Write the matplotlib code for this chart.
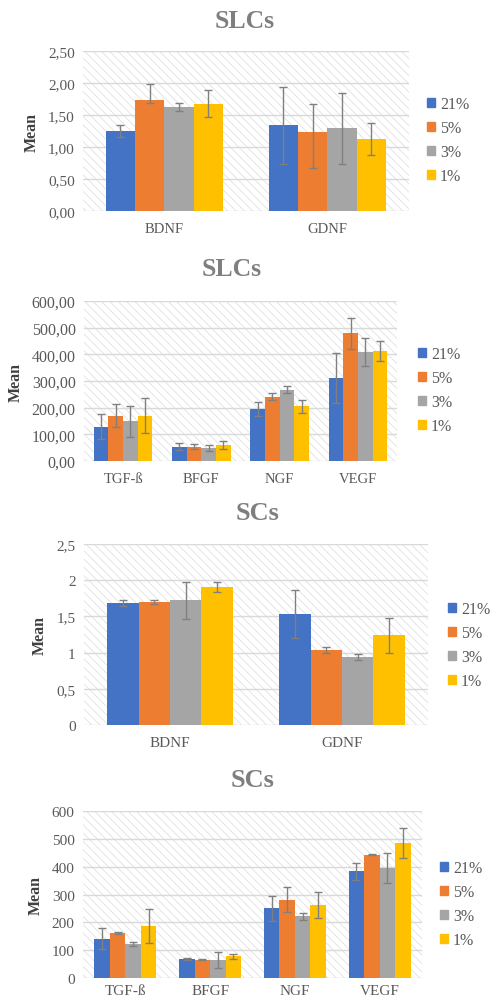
import numpy as np
import matplotlib
matplotlib.use("Agg")
import matplotlib.pyplot as plt
from matplotlib.patches import Rectangle, Patch

plt.rcParams['font.family'] = ['Liberation Serif', 'DejaVu Serif']
plt.rcParams['hatch.linewidth'] = 0.55

series = ["21%", "5%", "3%", "1%"]
colors = ["#4472C4", "#ED7D31", "#A5A5A5", "#FFC000"]

# panel 1: SLCs, BDNF / GDNF (error bars not symmetric here)
p1_cats = ["BDNF", "GDNF"]
p1_vals = [[1.25, 1.34], [1.74, 1.23], [1.62, 1.29], [1.67, 1.13]]
p1_lo = [[0.09, 0.60], [0.05, 0.56], [0.06, 0.56], [0.20, 0.25]]
p1_hi = [[0.09, 0.60], [0.24, 0.44], [0.07, 0.56], [0.22, 0.25]]
p1_ticks = [0, 0.5, 1.0, 1.5, 2.0, 2.5]
p1_labels = ["0,00", "0,50", "1,00", "1,50", "2,00", "2,50"]

# panel 2: SLCs, growth factors
p2_cats = ["TGF-ß", "BFGF", "NGF", "VEGF"]
p2_vals = [[129, 54, 194, 311], [170, 54, 241, 479], [150, 48, 268, 409], [170, 60, 205, 413]]
p2_err = [[47, 13, 27, 93], [42, 10, 14, 58], [58, 11, 14, 54], [65, 15, 24, 38]]
p2_ticks = [0, 100, 200, 300, 400, 500, 600]
p2_labels = ["0,00", "100,00", "200,00", "300,00", "400,00", "500,00", "600,00"]

# panel 3: SCs, BDNF / GDNF
p3_cats = ["BDNF", "GDNF"]
p3_vals = [[1.69, 1.53], [1.70, 1.04], [1.72, 0.94], [1.91, 1.24]]
p3_err = [[0.04, 0.33], [0.03, 0.04], [0.26, 0.04], [0.07, 0.24]]
p3_ticks = [0, 0.5, 1.0, 1.5, 2.0, 2.5]
p3_labels = ["0", "0,5", "1", "1,5", "2", "2,5"]

# panel 4: SCs, growth factors
p4_cats = ["TGF-ß", "BFGF", "NGF", "VEGF"]
p4_vals = [[141, 68, 250, 383], [162, 65, 281, 443], [123, 66, 222, 396], [186, 78, 262, 485]]
p4_err = [[37, 3, 45, 32], [3, 2, 45, 2], [7, 29, 13, 54], [61, 10, 46, 55]]
p4_ticks = [0, 100, 200, 300, 400, 500, 600]
p4_labels = ["0", "100", "200", "300", "400", "500", "600"]

txt = "#595959"
grid = "#D9D9D9"

fig = plt.figure(figsize=(4.9, 10.04), dpi=100)


def panel(rect, title, tpos, cats, vals, err, ticks, labels, gw, legpos, fs, xpad=8):
    # fs = (title, ytick, xtick, ylabel, legend)
    ax = fig.add_axes(rect)
    n = len(cats)
    x = np.arange(n)
    w = gw / len(series)
    ax.set_xlim(-0.5, n - 0.5)
    ax.set_ylim(ticks[0], ticks[-1])
    ax.add_patch(Rectangle((0, 0), 1, 1, transform=ax.transAxes, facecolor="white",
                           edgecolor="#DEDEDE", hatch="\\\\\\\\", lw=0, zorder=0))
    for t in ticks:
        ax.axhline(t, color=grid, lw=1.0, zorder=1)
    for i, s in enumerate(series):
        pos = x - gw / 2 + w * (i + 0.5)
        ax.bar(pos, vals[i], w, color=colors[i], zorder=2, label=s)
        ax.errorbar(pos, vals[i], yerr=err[i], fmt="none", ecolor="#808080",
                    elinewidth=1, capsize=3, capthick=1, zorder=3)
    ax.set_yticks(ticks)
    ax.set_yticklabels(labels)
    ax.set_xticks(x)
    ax.set_xticklabels(cats)
    ax.tick_params(length=0, colors=txt)
    ax.tick_params(axis="x", labelsize=fs[2], pad=xpad)
    ax.tick_params(axis="y", labelsize=fs[1], pad=6)
    for sp in ax.spines.values():
        sp.set_visible(False)
    ax.set_ylabel("Mean", fontsize=fs[3], fontweight="bold", color="#404040", labelpad=6)
    fig.text(tpos[0] / 490, 1 - tpos[1] / 1004, title, ha="center", va="center",
             fontsize=fs[0], fontweight="bold", color="#7F7F7F")
    handles = [Patch(color=c, label=s) for c, s in zip(colors, series)]
    fig.legend(handles=handles, loc="center left",
               bbox_to_anchor=(legpos[0] / 490, 1 - legpos[1] / 1004),
               frameon=False, fontsize=fs[4], labelcolor=txt, handlelength=0.5,
               handleheight=0.5, handletextpad=0.3, labelspacing=0.5,
               borderpad=0, borderaxespad=0)
    return ax


p1_err = [[p1_lo[i], p1_hi[i]] for i in range(len(series))]

panel([0.1694, 0.7888, 0.665, 0.1594], "SLCs", (245, 21), p1_cats, p1_vals,
      p1_err, p1_ticks, p1_labels, 0.72, (427, 141), (18.5, 11, 10.5, 11.5, 11.5))
panel([0.1714, 0.5398, 0.639, 0.1594], "SLCs", (232, 270), p2_cats, p2_vals,
      p2_err, p2_ticks, p2_labels, 0.75, (418, 391), (18.5, 11.5, 10.5, 11.5, 11.5))
panel([0.1714, 0.2769, 0.702, 0.1803], "SCs", (258, 514), p3_cats, p3_vals,
      p3_err, p3_ticks, p3_labels, 0.73, (448, 646), (19, 11, 11, 11.5, 11.5))
panel([0.1694, 0.0249, 0.6918, 0.1663], "SCs", (253, 781), p4_cats, p4_vals,
      p4_err, p4_ticks, p4_labels, 0.73, (440, 905), (19, 11, 11, 11.5, 11.5), xpad=4)

fig.savefig("out.png", dpi=100)
